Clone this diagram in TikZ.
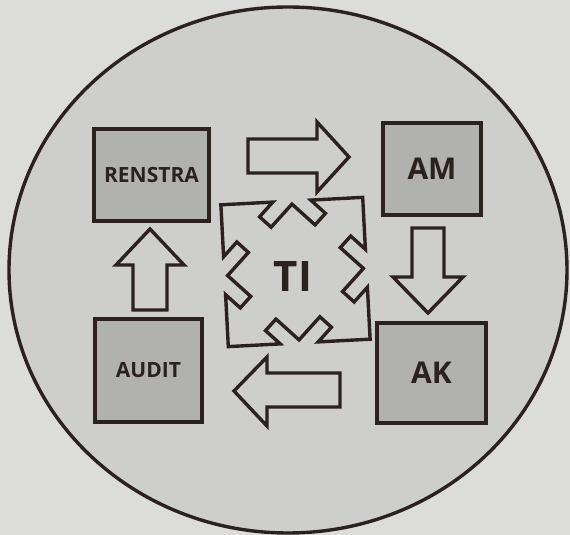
\documentclass[tikz,border=0pt]{standalone}
\usepackage{fontspec}
\setmainfont{Open Sans}
\definecolor{paper}{HTML}{DCDCDA}
\definecolor{disc}{HTML}{CECECC}
\definecolor{boxgray}{HTML}{B1B1AF}
\definecolor{ink}{HTML}{2B211F}
\begin{document}
\begin{tikzpicture}[x=0.5pt,y=-0.5pt,
  outline/.style={draw=ink, line width=1.7pt, line join=miter},
  stagebox/.style={outline, fill=boxgray, inner sep=0pt, text=ink},
  smalllabel/.style={font=\bfseries\fontsize{10.5}{12}\selectfont},
  biglabel/.style={font=\bfseries\fontsize{15}{18}\selectfont},
  blockarr/.style={outline, fill=disc},
]
% page and disc
\fill[paper] (0,0) rectangle (570,535);
\path[outline, fill=disc] (288,270) ellipse [x radius=279, y radius=263];

% the four stages
\node[stagebox, smalllabel, minimum width=57.5pt, minimum height=46pt] (renstra) at (151.5,175) {RENSTRA};
\node[stagebox, biglabel, minimum width=49pt, minimum height=46pt] (am) at (432,169) {AM};
\node[stagebox, biglabel, minimum width=54.5pt, minimum height=50pt] (ak) at (431.5,373) {AK};
\node[stagebox, smalllabel, minimum width=53.5pt, minimum height=51.5pt] (audit) at (148.5,370.5) {AUDIT};

% block arrows of the cycle
\path[blockarr] (248,139) -- (317,139) -- (317,122) -- (349,157) -- (317,192) -- (317,173) -- (248,173) -- cycle;
\path[blockarr] (412,228) -- (444,228) -- (444,277) -- (463,277) -- (428,313) -- (393,277) -- (412,277) -- cycle;
\path[blockarr] (340,373) -- (267,373) -- (267,357) -- (234,391) -- (267,426) -- (267,407) -- (340,407) -- cycle;
\path[blockarr] (133,310) -- (133,265) -- (116,265) -- (150,229) -- (184,265) -- (167,265) -- (167,310) -- cycle;

% central square with outward chevrons
\begin{scope}[shift={(295.5,272)}, rotate=3]
\path[outline, fill=disc]
  (-71,-71)
  -- (-19,-71) -- (-33,-57) -- (-22,-46) -- (0,-68) -- (22,-46) -- (33,-57) -- (19,-71)
  -- (71,-71)
  -- (71,-19) -- (57,-33) -- (46,-22) -- (68,0) -- (46,22) -- (57,33) -- (71,19)
  -- (71,71)
  -- (19,71) -- (33,57) -- (22,46) -- (0,68) -- (-22,46) -- (-33,57) -- (-19,71)
  -- (-71,71)
  -- (-71,19) -- (-57,33) -- (-46,22) -- (-68,0) -- (-46,-22) -- (-57,-33) -- (-71,-19)
  -- cycle;
\end{scope}
\node[text=ink, font=\bfseries\fontsize{21}{24}\selectfont] (ti) at (293,277) {TI};
\end{tikzpicture}
\end{document}
